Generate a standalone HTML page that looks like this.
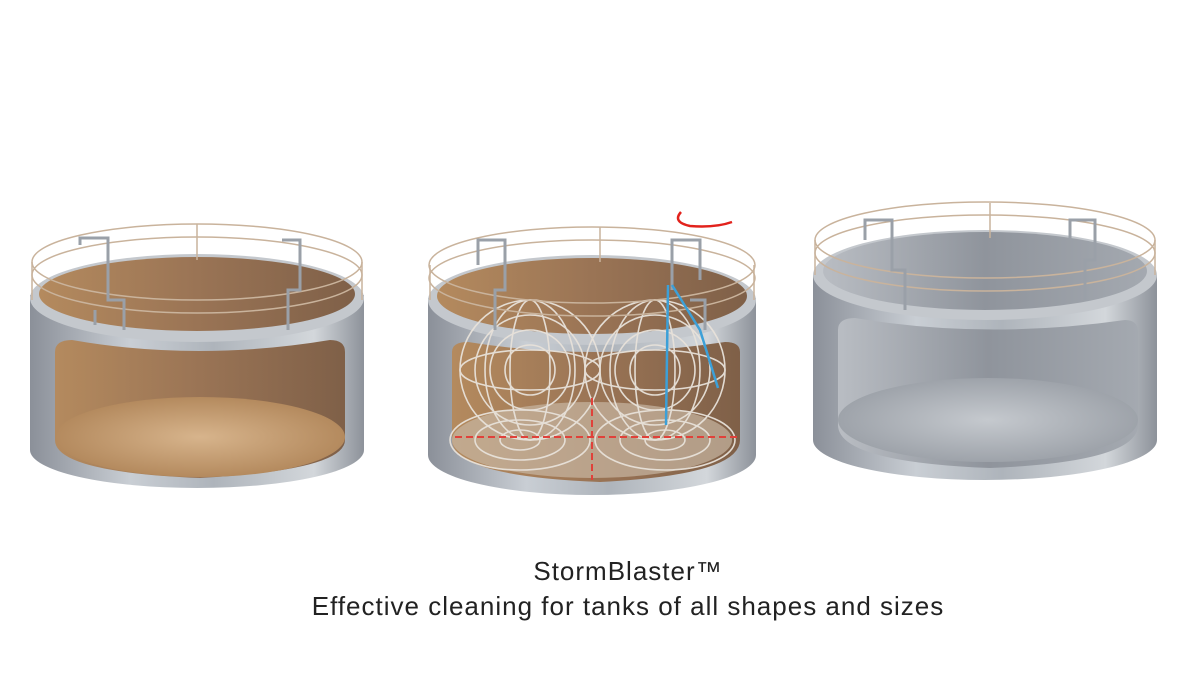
<!DOCTYPE html>
<html><head><meta charset="utf-8"><style>
html,body{margin:0;padding:0;background:#fff;width:1200px;height:675px;overflow:hidden}
.t{position:absolute;left:0;width:1256px;text-align:center;font-family:"Liberation Sans",sans-serif;color:#222;font-size:26px;letter-spacing:1px}
</style></head><body>
<svg width="1200" height="675" style="position:absolute;left:0;top:0">
<defs>
<linearGradient id="m" x1="0" x2="1" y1="0" y2="0">
<stop offset="0" stop-color="#8b9099"/><stop offset="0.3" stop-color="#c9ced4"/><stop offset="0.55" stop-color="#aeb4bb"/><stop offset="0.85" stop-color="#d3d7db"/><stop offset="1" stop-color="#8d929a"/></linearGradient>
<linearGradient id="br" x1="0" x2="1"><stop offset="0" stop-color="#b48a5e"/><stop offset="0.5" stop-color="#9a7455"/><stop offset="1" stop-color="#7f6048"/></linearGradient>
<radialGradient id="fl"><stop offset="0" stop-color="#d7b48c"/><stop offset="1" stop-color="#b48a5e"/></radialGradient>
<linearGradient id="gi" x1="0" x2="1"><stop offset="0" stop-color="#b9bdc3"/><stop offset="0.5" stop-color="#8f949c"/><stop offset="1" stop-color="#a4a9b0"/></linearGradient>
<radialGradient id="gf"><stop offset="0" stop-color="#c5c9ce"/><stop offset="1" stop-color="#9ea3aa"/></radialGradient>
</defs>
<!-- Tank 1 -->
<path d="M30,295 L30,450 A167,38 0 0 0 364,450 L364,295 Z" fill="url(#m)"/>
<ellipse cx="197" cy="298" rx="167" ry="44" fill="#c4c8cd"/>
<ellipse cx="197" cy="294" rx="158" ry="37" fill="url(#br)"/>
<path d="M55,352 Q55,340 72,340 Q197,362 330,340 Q345,340 345,352 L345,440 Q345,470 200,478 Q55,472 55,440 Z" fill="url(#br)"/>
<ellipse cx="200" cy="437" rx="145" ry="40" fill="url(#fl)"/>
<g fill="none" stroke="#c9b39c" stroke-width="1.5">
<ellipse cx="197" cy="262" rx="165" ry="38"/><ellipse cx="197" cy="275" rx="165" ry="38"/>
<line x1="32" y1="262" x2="32" y2="300"/><line x1="362" y1="262" x2="362" y2="300"/><line x1="197" y1="224" x2="197" y2="260"/></g>
<g stroke="#9aa0a8" stroke-width="3" fill="none"><path d="M80,245 L80,238 L108,238 L108,300 L124,300 L124,330"/><path d="M282,240 L300,240 L300,290 L288,290 L288,330"/><path d="M95,310 L95,325"/></g>
<!-- Tank 2 -->
<path d="M428,298 L428,455 A164,40 0 0 0 756,455 L756,298 Z" fill="url(#m)"/>
<ellipse cx="592" cy="300" rx="164" ry="45" fill="#c4c8cd"/>
<ellipse cx="592" cy="296" rx="155" ry="38" fill="url(#br)"/>
<path d="M452,352 Q452,342 468,342 Q592,362 725,342 Q740,342 740,352 L740,440 Q740,475 600,482 Q452,476 452,440 Z" fill="url(#br)"/>
<ellipse cx="592" cy="440" rx="140" ry="38" fill="#c8b6a2" opacity="0.7"/>
<g fill="none" stroke="#e8e2da" stroke-width="1.6" opacity="0.95">
<circle cx="530" cy="370" r="70"/><circle cx="530" cy="370" r="55"/><circle cx="530" cy="370" r="40"/><circle cx="530" cy="370" r="25"/>
<circle cx="655" cy="370" r="70"/><circle cx="655" cy="370" r="55"/><circle cx="655" cy="370" r="40"/><circle cx="655" cy="370" r="25"/>
<ellipse cx="530" cy="370" rx="70" ry="20"/><ellipse cx="655" cy="370" rx="70" ry="20"/>
<ellipse cx="530" cy="370" rx="20" ry="70"/><ellipse cx="655" cy="370" rx="20" ry="70"/>
<ellipse cx="530" cy="370" rx="45" ry="70"/><ellipse cx="655" cy="370" rx="45" ry="70"/>
<ellipse cx="520" cy="440" rx="70" ry="30"/><ellipse cx="665" cy="440" rx="70" ry="30"/>
<ellipse cx="520" cy="440" rx="45" ry="20"/><ellipse cx="665" cy="440" rx="45" ry="20"/>
<ellipse cx="520" cy="440" rx="20" ry="10"/><ellipse cx="665" cy="440" rx="20" ry="10"/>
</g>
<g stroke="#e0413a" stroke-width="2" stroke-dasharray="7,4"><line x1="455" y1="437" x2="738" y2="437"/><line x1="592" y1="398" x2="592" y2="480"/></g>
<g fill="none" stroke="#c9b39c" stroke-width="1.5">
<ellipse cx="592" cy="265" rx="163" ry="38"/><ellipse cx="592" cy="278" rx="163" ry="38"/>
<line x1="430" y1="265" x2="430" y2="300"/><line x1="754" y1="265" x2="754" y2="300"/><line x1="600" y1="227" x2="600" y2="262"/></g>
<g stroke="#9aa0a8" stroke-width="3" fill="none"><path d="M478,265 L478,240 L505,240 L505,290 L495,290 L495,330"/><path d="M672,290 L672,240 L700,240 L700,280"/><path d="M690,300 L705,300 L705,330"/></g>
<g stroke="#3ca0d8" stroke-width="2.5" fill="none"><path d="M668,285 L666,425"/><path d="M672,285 L700,330 L718,388"/></g>
<path d="M681,212 Q672,222 690,226 Q715,228 732,222" stroke="#e2221c" stroke-width="2.5" fill="none"/>
<!-- Tank 3 -->
<path d="M813,275 L813,440 A172,40 0 0 0 1157,440 L1157,275 Z" fill="url(#m)"/>
<ellipse cx="985" cy="275" rx="172" ry="45" fill="#c4c8cd"/>
<ellipse cx="985" cy="271" rx="162" ry="39" fill="url(#gi)"/>
<path d="M838,330 Q838,318 855,318 Q985,340 1125,320 Q1138,320 1138,332 L1138,425 Q1138,462 990,468 Q838,462 838,425 Z" fill="url(#gi)"/>
<ellipse cx="988" cy="420" rx="150" ry="42" fill="url(#gf)"/>
<g fill="none" stroke="#c9b39c" stroke-width="1.5">
<ellipse cx="985" cy="240" rx="170" ry="38"/><ellipse cx="985" cy="253" rx="170" ry="38"/>
<line x1="815" y1="240" x2="815" y2="275"/><line x1="1155" y1="240" x2="1155" y2="275"/><line x1="990" y1="203" x2="990" y2="238"/></g>
<g stroke="#9aa0a8" stroke-width="3" fill="none"><path d="M865,240 L865,220 L892,220 L892,270 L905,270 L905,310"/><path d="M1070,240 L1070,220 L1095,220 L1095,260 L1085,260 L1085,300"/></g>
</svg>
<div class="t" style="top:556px">StormBlaster™</div>
<div class="t" style="top:591px">Effective cleaning for tanks of all shapes and sizes</div>
</body></html>
